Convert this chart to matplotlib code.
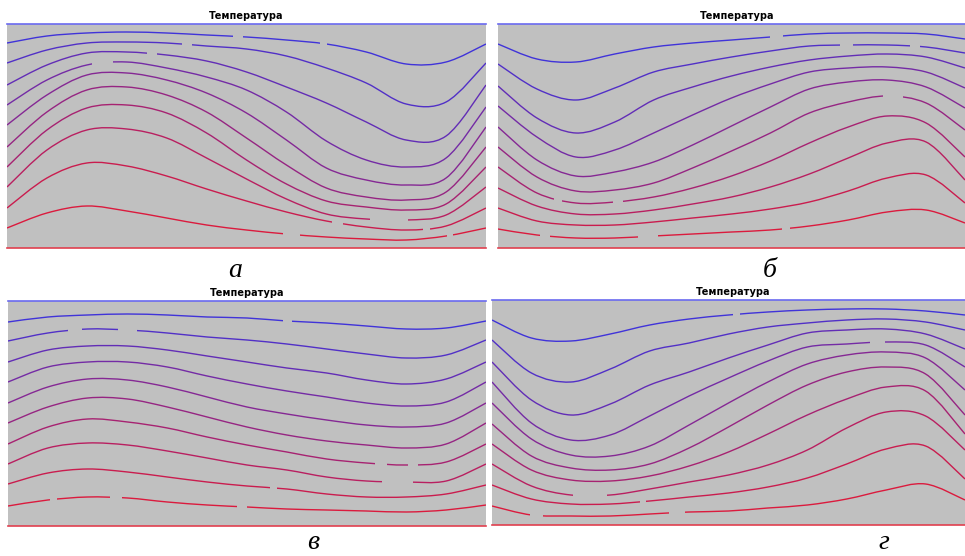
import numpy as np
import matplotlib.pyplot as plt
from matplotlib.path import Path
from matplotlib.patches import PathPatch

# sample positions along each panel (13 columns, left -> right)
x_pos = [0, 1, 2, 3, 4, 5, 6, 7, 8, 9, 10, 11, 12]

# isotherm depth below the top (cold) wall, panel height ~224, top line first
panel_a = [
    [19, 12, 9, 8, 9, 11, 13, 16, 20, 28, 40, 38, 20],
    [39, 26, 19, 18, 19, 22, 25, 32, 44, 59, 80, 78, 39],
    [61, 41, 29, 28, 31, 37, 48, 63, 79, 98, 116, 112, 61],
    [81, 56, 41, 38, 44, 53, 66, 88, 117, 136, 143, 134, 83],
    [101, 71, 51, 49, 56, 69, 89, 116, 144, 156, 161, 154, 103],
    [123, 88, 66, 63, 71, 88, 114, 141, 164, 173, 176, 168, 123],
    [143, 106, 84, 81, 89, 109, 136, 160, 177, 183, 186, 180, 143],
    [163, 126, 106, 105, 114, 134, 155, 175, 190, 195, 196, 191, 163],
    [184, 154, 139, 142, 152, 165, 177, 188, 197, 203, 206, 202, 184],
    [204, 189, 182, 187, 194, 201, 206, 210, 213, 215, 216, 212, 204],
]

panel_b = [
    [20, 35, 38, 30, 23, 19, 16, 13, 10, 9, 9, 10, 15],
    [40, 65, 76, 64, 48, 40, 33, 27, 22, 21, 21, 23, 29],
    [62, 94, 109, 98, 76, 63, 52, 43, 36, 32, 30, 33, 44],
    [82, 113, 133, 126, 109, 91, 74, 60, 48, 44, 43, 48, 64],
    [103, 136, 152, 148, 138, 121, 102, 83, 65, 58, 56, 63, 84],
    [123, 153, 167, 166, 159, 144, 127, 109, 89, 78, 72, 79, 106],
    [143, 169, 179, 178, 173, 164, 152, 137, 119, 103, 92, 99, 133],
    [164, 182, 190, 190, 186, 180, 173, 163, 150, 134, 119, 118, 156],
    [184, 197, 201, 201, 198, 194, 190, 185, 178, 167, 154, 151, 179],
    [205, 211, 214, 214, 212, 210, 208, 206, 202, 196, 188, 186, 199],
]

panel_v = [
    [21, 16, 14, 13, 14, 16, 17, 20, 22, 25, 28, 27, 20],
    [40, 32, 28, 29, 32, 36, 39, 43, 48, 53, 57, 54, 39],
    [61, 49, 45, 45, 49, 55, 61, 67, 72, 79, 83, 78, 61],
    [81, 66, 61, 61, 66, 75, 83, 90, 96, 102, 105, 101, 81],
    [102, 86, 78, 79, 86, 96, 106, 113, 119, 124, 126, 122, 102],
    [122, 106, 97, 98, 106, 116, 126, 134, 140, 144, 147, 143, 122],
    [143, 126, 118, 121, 127, 136, 144, 151, 158, 162, 164, 161, 143],
    [163, 147, 142, 144, 150, 157, 164, 169, 176, 180, 181, 180, 163],
    [183, 172, 168, 171, 176, 181, 185, 188, 193, 196, 196, 193, 184],
    [205, 199, 196, 197, 201, 204, 206, 208, 209, 210, 211, 209, 204],
]

panel_g = [
    [20, 38, 41, 34, 25, 19, 15, 12, 10, 9, 9, 11, 15],
    [40, 73, 82, 69, 51, 43, 34, 27, 23, 20, 19, 22, 30],
    [62, 100, 115, 104, 85, 72, 58, 45, 33, 30, 29, 34, 49],
    [82, 123, 140, 135, 116, 96, 78, 61, 47, 44, 42, 45, 67],
    [103, 139, 155, 156, 146, 125, 103, 82, 64, 55, 52, 58, 90],
    [124, 156, 168, 170, 164, 148, 127, 105, 85, 72, 67, 74, 115],
    [144, 170, 180, 181, 176, 166, 152, 134, 115, 99, 87, 91, 134],
    [164, 186, 195, 195, 189, 182, 175, 165, 150, 128, 112, 116, 150],
    [185, 199, 204, 204, 201, 197, 193, 187, 178, 164, 149, 146, 179],
    [206, 215, 216, 216, 214, 212, 211, 208, 205, 199, 190, 184, 200],
]

# breaks in the isotherms (label gaps), line index -> (from, to) in x_pos units
gaps_a = {0: [(5.66, 5.92), (7.84, 8.02)], 1: [(4.39, 4.64)],
          2: [(3.5, 3.76)], 3: [(2.13, 2.66)], 7: [(9.1, 10.05)],
          8: [(8.15, 8.42), (10.43, 10.6)], 9: [(6.92, 7.34), (11.03, 11.18)]}
gaps_b = {0: [(6.99, 7.33)], 1: [(8.79, 9.13), (10.59, 10.85)],
          5: [(9.9, 10.4)], 6: [(1.45, 1.65), (2.96, 3.2)],
          9: [(1.08, 1.34), (3.6, 4.11), (7.3, 7.5)]}
gaps_v = {0: [(6.91, 7.13)], 1: [(1.51, 1.86), (2.77, 3.24)],
          6: [(9.21, 9.51), (10.04, 10.29)], 7: [(9.38, 10.17)],
          8: [(6.58, 6.75)],
          9: [(1.05, 1.22), (2.56, 2.86), (5.75, 6.0)]}
gaps_g = {0: [(6.11, 6.29)], 3: [(9.59, 9.97)], 7: [(2.05, 2.92)],
          8: [(3.75, 3.9)], 9: [(0.96, 1.3), (4.5, 4.9)]}

title = 'Температура'
letters = ['а', 'б', 'в', 'г']


def smooth_path(xs, ys):
    # catmull-rom through the points, drawn as cubic bezier segments
    p = np.column_stack([xs, ys]).astype(float)
    ext = np.vstack([p[0], p, p[-1]])
    verts = [p[0]]
    codes = [Path.MOVETO]
    for i in range(1, len(ext) - 2):
        c1 = ext[i] + (ext[i + 1] - ext[i - 1]) / 6
        c2 = ext[i + 1] - (ext[i + 2] - ext[i]) / 6
        verts += [c1, c2, ext[i + 1]]
        codes += [Path.CURVE4] * 3
    return Path(verts, codes)


def keep_path(gaps):
    # clip region = vertical strips between the gaps
    edges = [-1]
    for g0, g1 in gaps:
        edges += [g0, g1]
    edges.append(13)
    verts, codes = [], []
    for x0, x1 in zip(edges[0::2], edges[1::2]):
        verts += [(x0, -50), (x1, -50), (x1, 300), (x0, 300), (x0, -50)]
        codes += [Path.MOVETO, Path.LINETO, Path.LINETO, Path.LINETO,
                  Path.CLOSEPOLY]
    return Path(verts, codes)


fig = plt.figure(figsize=(9.65, 5.56), dpi=100)
W, H = 965, 556

# panel boxes in pixels: left, top, right, bottom
boxes = [(7, 24, 486, 248), (498, 24, 965, 248),
         (8, 301, 486, 526), (492, 300, 965, 525)]
panels = [panel_a, panel_b, panel_v, panel_g]
all_gaps = [gaps_a, gaps_b, gaps_v, gaps_g]
label_xy = [(235, 277), (770, 277), (313, 549), (884, 549)]
title_x = [246, 737, 247, 733]

blue = np.array([0.25, 0.20, 0.85])
red = np.array([0.86, 0.10, 0.24])

for box, lines, gaps, lab, lxy, tx in zip(boxes, panels, all_gaps, letters,
                                          label_xy, title_x):
    l, t, r, b = box
    ax = fig.add_axes([l / W, 1 - b / H, (r - l) / W, (b - t) / H])
    ax.set_facecolor('#c0c0c0')
    n = len(lines)
    for i, yv in enumerate(lines):
        c = blue + (red - blue) * i / (n - 1)
        pp = ax.add_patch(PathPatch(smooth_path(x_pos, yv), fill=False,
                                    edgecolor=c, lw=1.0))
        if i in gaps:
            pp.set_clip_path(keep_path(gaps[i]), ax.transData)
    ax.set_xlim(0, 12)
    ax.set_ylim(b - t, 0)
    ax.set_xticks([])
    ax.set_yticks([])
    ax.spines['left'].set_visible(False)
    ax.spines['right'].set_visible(False)
    ax.spines['top'].set_color('#6a6af0')
    ax.spines['bottom'].set_color('#e0404f')
    ax.spines['top'].set_linewidth(1.2)
    ax.spines['bottom'].set_linewidth(1.2)

    fig.text(tx / W, 1 - (t - 8) / H, title, ha='center', va='center',
             fontsize=7, fontweight='bold', family='DejaVu Sans')
    fig.text(lxy[0] / W, 1 - lxy[1] / H, lab, ha='center', va='baseline',
             fontsize=20, style='italic', family='Liberation Serif')

fig.savefig('out.png', dpi=100, facecolor='white')
